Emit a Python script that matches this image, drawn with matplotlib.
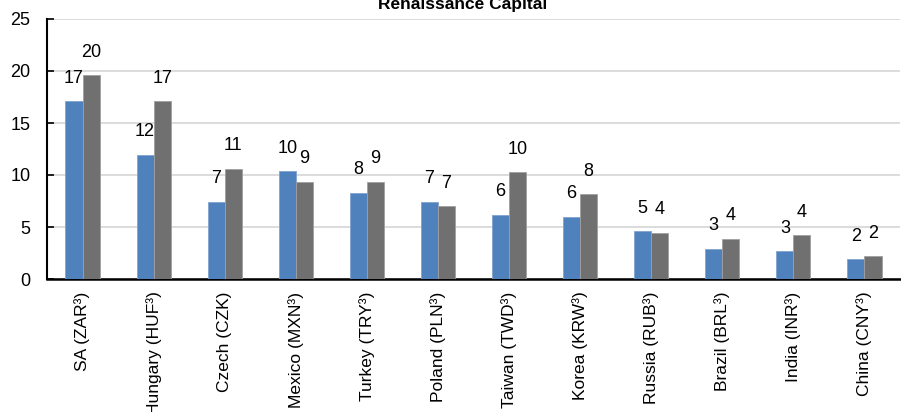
import numpy as np
import matplotlib.pyplot as plt

plt.rcParams['font.family'] = ['Liberation Sans', 'DejaVu Sans']

categories = ["SA (ZAR³)", "Hungary (HUF³)", "Czech (CZK)", "Mexico (MXN³)",
              "Turkey (TRY³)", "Poland (PLN³)", "Taiwan (TWD³)", "Korea (KRW³)",
              "Russia (RUB³)", "Brazil (BRL³)", "India (INR³)", "China (CNY³)"]
series_blue = [17.1, 11.95, 7.43, 10.38, 8.3, 7.45, 6.18, 6.0, 4.58, 2.92, 2.66, 1.92]
series_gray = [19.6, 17.1, 10.6, 9.36, 9.36, 6.99, 10.26, 8.14, 4.45, 3.88, 4.23, 2.21]
yticks = [0, 5, 10, 15, 20, 25]

fig = plt.figure(figsize=(9.01, 4.12), dpi=100)
ax = fig.add_axes([47/901, 133/412, 853/901, 260/412])

x = np.arange(len(categories))
w = 0.24
b1 = ax.bar(x - w/2, series_blue, w, color='#4F81BD', edgecolor='#7FA3D0', linewidth=0.6, zorder=3)
b2 = ax.bar(x + w/2, series_gray, w, color='#707070', edgecolor='#A0A0A0', linewidth=0.6, zorder=3)

# value labels, rounded like the source chart
for bars, vals in [(b1, series_blue), (b2, series_gray)]:
    for r, v in zip(bars, vals):
        ax.annotate(f"{v:.0f}", (r.get_x() + r.get_width()/2, v),
                    xytext=(0, 16.5), textcoords='offset points',
                    ha='center', va='center', fontsize=13)

ax.set_xlim(-0.5, len(categories) - 0.5)
ax.set_ylim(0, 25)
ax.set_yticks(yticks)
ax.set_xticks(x)
ax.set_xticklabels(categories, rotation=90, fontsize=12.5)
ax.tick_params(axis='x', length=0, pad=9)
ax.tick_params(axis='y', direction='in', length=5, width=1.2, labelsize=13, pad=12)
ax.yaxis.grid(True, color='#D9D9D9', linewidth=1.3, zorder=0)
ax.set_axisbelow(True)
for s in ['top', 'right']:
    ax.spines[s].set_visible(False)
ax.spines['left'].set_linewidth(1.5)
ax.spines['bottom'].set_linewidth(1.8)

fig.text(463/901, (412 - 9)/412, "Renaissance Capital", ha='center', va='baseline',
         fontsize=12.5, fontweight='bold')

fig.savefig("out.png", dpi=100)
